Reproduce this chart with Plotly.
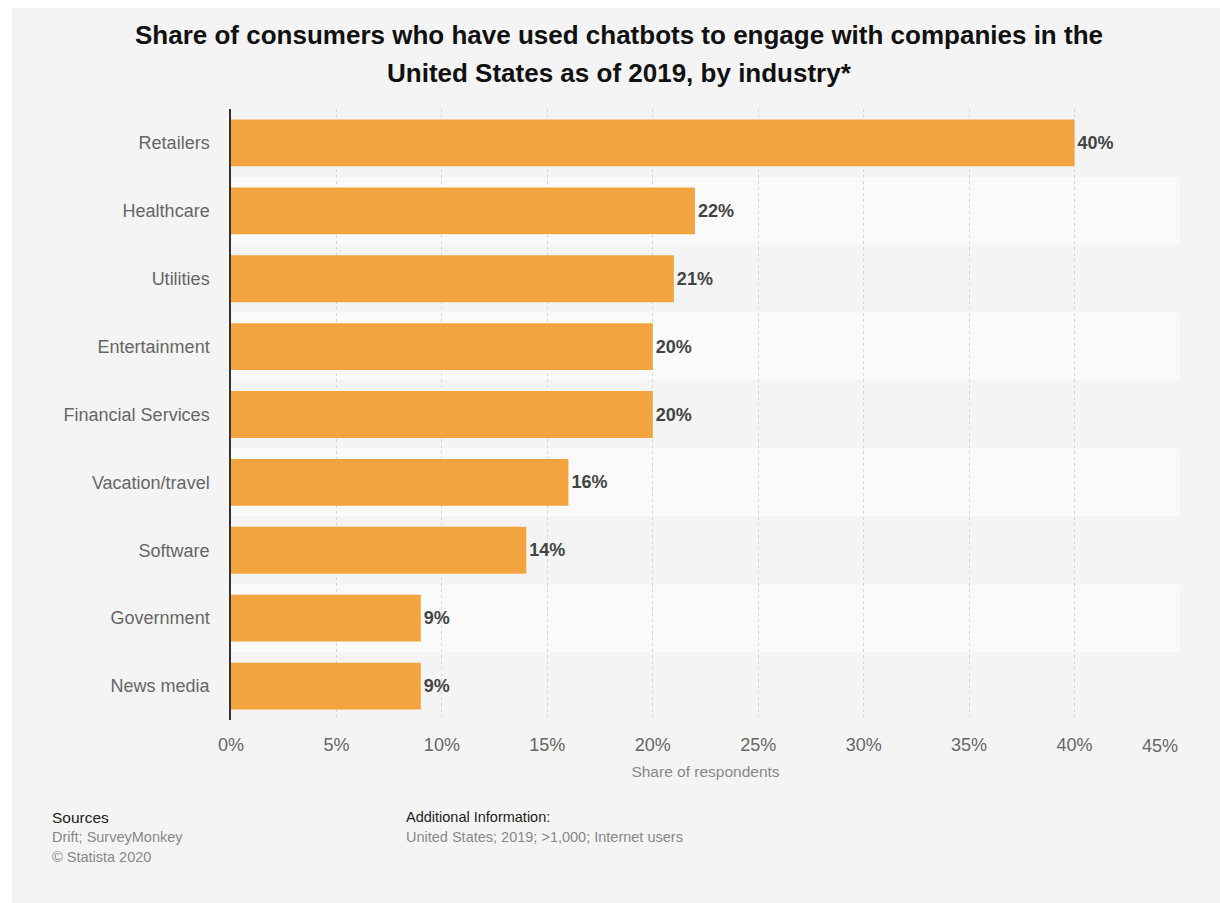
import plotly.graph_objects as go

categories = ["Retailers", "Healthcare", "Utilities", "Entertainment", "Financial Services",
              "Vacation/travel", "Software", "Government", "News media"]
values = [40, 22, 21, 20, 20, 16, 14, 9, 9]
tick_vals = [0, 5, 10, 15, 20, 25, 30, 35, 40]
tick_text = ["0%", "5%", "10%", "15%", "20%", "25%", "30%", "35%", "40%"]
last_tick_val = 45
last_tick_text = "45%"

W, H = 1220, 903
L, R, T, B = 231, 40, 109, 183
PW, PH = W - L - R, H - T - B

def px_x(p):
    return (p - L) / PW

def px_y(p):
    return (H - B - p) / PH

FONT = "Liberation Sans, Arial, sans-serif"

fig = go.Figure()
fig.add_trace(go.Bar(
    y=categories, x=values, orientation="h",
    marker=dict(color="#f3a43e", line=dict(width=0)),
    text=[f"{v}%" for v in values], textposition="outside",
    textfont=dict(family=FONT, size=18, color="#444444", weight="bold"),
    cliponaxis=False, hoverinfo="skip",
))

shapes = [dict(type="rect", xref="paper", yref="paper", x0=px_x(12), x1=px_x(1220),
               y0=px_y(903), y1=px_y(8), fillcolor="#f4f4f4", line=dict(width=0), layer="below")]
for i in range(len(categories)):
    if i % 2 == 1:
        shapes.append(dict(type="rect", xref="x", yref="y", x0=0, x1=last_tick_val,
                           y0=i - 0.5, y1=i + 0.5, fillcolor="#fafafa", line=dict(width=0), layer="below"))

annotations = [
    dict(text="Share of consumers who have used chatbots to engage with companies in the",
         x=px_x(619), y=px_y(35), xref="paper", yref="paper", showarrow=False,
         xanchor="center", yanchor="middle", font=dict(family=FONT, size=26, color="#111111", weight="bold")),
    dict(text="United States as of 2019, by industry*",
         x=px_x(619), y=px_y(73), xref="paper", yref="paper", showarrow=False,
         xanchor="center", yanchor="middle", font=dict(family=FONT, size=26, color="#111111", weight="bold")),
    dict(text=last_tick_text, x=last_tick_val, xref="x", y=px_y(746), yref="paper", showarrow=False,
         xanchor="right", yanchor="middle", font=dict(family=FONT, size=18, color="#666666")),
    dict(text="Sources", x=px_x(50), y=px_y(817), xref="paper", yref="paper", showarrow=False,
         xanchor="left", yanchor="middle", font=dict(family=FONT, size=15.5, color="#222222")),
    dict(text="Drift; SurveyMonkey", x=px_x(50), y=px_y(837), xref="paper", yref="paper", showarrow=False,
         xanchor="left", yanchor="middle", font=dict(family=FONT, size=14.5, color="#888888")),
    dict(text="© Statista 2020", x=px_x(50), y=px_y(857), xref="paper", yref="paper", showarrow=False,
         xanchor="left", yanchor="middle", font=dict(family=FONT, size=14.5, color="#888888")),
    dict(text="Additional Information:", x=px_x(404), y=px_y(817), xref="paper", yref="paper", showarrow=False,
         xanchor="left", yanchor="middle", font=dict(family=FONT, size=14.5, color="#222222")),
    dict(text="United States; 2019; >1,000; Internet users", x=px_x(404), y=px_y(837), xref="paper",
         yref="paper", showarrow=False, xanchor="left", yanchor="middle",
         font=dict(family=FONT, size=14.5, color="#888888")),
]

fig.update_layout(
    width=W, height=H, margin=dict(l=L, r=R, t=T, b=B, autoexpand=False),
    paper_bgcolor="#ffffff", plot_bgcolor="rgba(0,0,0,0)",
    showlegend=False, bargap=0.31,
    shapes=shapes, annotations=annotations,
    font=dict(family=FONT),
)
fig.update_xaxes(
    range=[0, last_tick_val], tickvals=tick_vals + [last_tick_val],
    ticktext=tick_text + [""], showgrid=True, gridcolor="#d6d6d6", griddash="dot", gridwidth=1,
    zeroline=False, showline=False, ticks="", ticklabelstandoff=12,
    tickfont=dict(family=FONT, size=18, color="#666666"),
    title=dict(text="Share of respondents", font=dict(family=FONT, size=15.5, color="#888888"), standoff=12),
    fixedrange=True,
)
fig.update_yaxes(
    categoryorder="array", categoryarray=categories, autorange="reversed",
    showgrid=False, zeroline=False, showline=True, linecolor="#333333", linewidth=1.5,
    ticks="", ticklabelstandoff=16, tickfont=dict(family=FONT, size=18, color="#666666"),
    fixedrange=True,
)

fig.write_html("out.html")
